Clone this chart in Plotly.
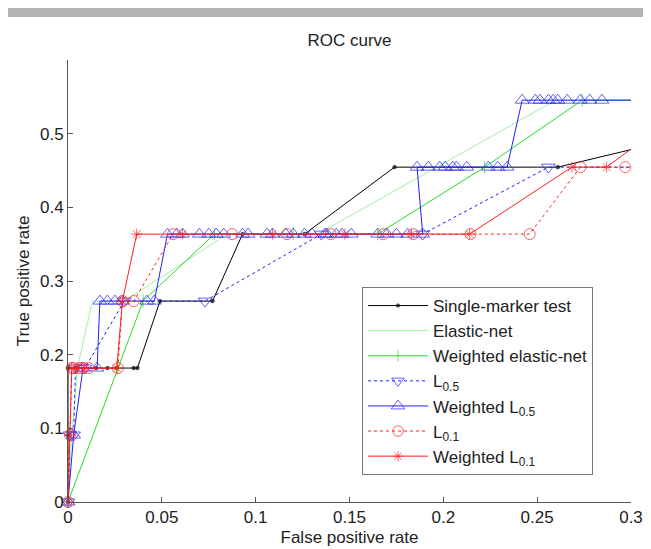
import plotly.graph_objects as go

T = [k / 11 for k in range(7)]  # TPR levels k/11

# Single-marker test
smt_x = [0, 0, 0, 0.004, 0.015, 0.021, 0.026, 0.035, 0.037, 0.049, 0.077, 0.093, 0.126, 0.174, 0.261, 0.41]
smt_y = [T[0], T[1], T[2], T[2], T[2], T[2], T[2], T[2], T[2], T[3], T[3], T[4], T[4], T[5], T[5], T[6]]

# Elastic-net
en_x = [0, 0.002, 0.005, 0.013, 0.03, 0.085, 0.133, 0.26, 0.35]
en_y = [T[0], T[1], T[2], T[3], T[3], T[4], T[4], T[6], T[6]]

# Weighted elastic-net
wen_x = [0, 0.0266, 0.04, 0.078, 0.12, 0.165, 0.222, 0.274, 0.35]
wen_y = [T[0], T[2], T[3], T[4], T[4], T[4], T[5], T[6], T[6]]

# L0.5
l05_x = [0, 0.001, 0.003, 0.004, 0.009, 0.03, 0.073, 0.135, 0.189, 0.256, 0.35]
l05_y = [T[0], T[1], T[1], T[2], T[2], T[3], T[3], T[4], T[4], T[5], T[5]]

# Weighted L0.5
wl05_x = [0, 0.003, 0.008, 0.0155, 0.017, 0.021, 0.025, 0.029, 0.042, 0.046, 0.053, 0.058, 0.061,
          0.070, 0.075, 0.079, 0.083, 0.093, 0.096, 0.106, 0.109, 0.116, 0.12, 0.126, 0.13, 0.137,
          0.138, 0.143, 0.146, 0.151, 0.165, 0.17, 0.175, 0.181, 0.189, 0.186, 0.192, 0.198, 0.201,
          0.205, 0.207, 0.2125, 0.224, 0.229, 0.234, 0.242, 0.249, 0.2515, 0.256, 0.2585, 0.261,
          0.266, 0.273, 0.278, 0.2845, 0.35]
wl05_y = [T[0], T[1], T[2], T[2], T[3], T[3], T[3], T[3], T[3], T[3], T[4], T[4], T[4],
          T[4], T[4], T[4], T[4], T[4], T[4], T[4], T[4], T[4], T[4], T[4], T[4], T[4],
          T[4], T[4], T[4], T[4], T[4], T[4], T[4], T[4], T[4], T[5], T[5], T[5], T[5],
          T[5], T[5], T[5], T[5], T[5], T[5], T[6], T[6], T[6], T[6], T[6], T[6],
          T[6], T[6], T[6], T[6], T[6]]

# L0.1
l01_x = [0, 0.001, 0.002, 0.003, 0.006, 0.008, 0.011, 0.0266, 0.029, 0.035, 0.056, 0.0875, 0.1167,
         0.14, 0.168, 0.184, 0.2145, 0.246, 0.273, 0.297, 0.35]
l01_y = [T[0], T[1], T[2], T[2], T[2], T[2], T[2], T[2], T[3], T[3], T[4], T[4], T[4],
         T[4], T[4], T[4], T[4], T[4], T[5], T[5], T[5]]

# Weighted L0.1
wl01_x = [0, 0.001, 0.002, 0.005, 0.009, 0.026, 0.029, 0.0366, 0.061, 0.109, 0.1475, 0.183, 0.214,
          0.2685, 0.287, 0.335]
wl01_y = [T[0], T[1], T[2], T[2], T[2], T[2], T[3], T[4], T[4], T[4], T[4], T[4], T[4],
          T[5], T[5], T[6]]

XMAX = 0.3


def sizes(xs, s):
    return [s if x <= XMAX else 0 for x in xs]


fig = go.Figure()

def add(name, xs, ys, color, dash, symbol, msize, mode="lines+markers", lw=1):
    fig.add_trace(go.Scatter(
        x=xs, y=ys, name=name, mode=mode, cliponaxis=False,
        line=dict(color=color, width=lw, dash=dash),
        marker=dict(symbol=symbol, size=sizes(xs, msize), color=color,
                    line=dict(color=color, width=1)),
    ))

add("Single-marker test", smt_x, smt_y, "#000000", "solid", "circle", 3.5)
add("Elastic-net", en_x, en_y, "#a6eea6", "solid", "circle", 0, mode="lines")
add("Weighted elastic-net", wen_x, wen_y, "#22dd22", "solid", "line-ns-open", 9)
add("L<sub>0.5</sub>", l05_x, l05_y, "#2020ff", "dot", "triangle-down-open", 12)
add("Weighted L<sub>0.5</sub>", wl05_x, wl05_y, "#2020ff", "solid", "triangle-up-open", 12)
add("L<sub>0.1</sub>", l01_x, l01_y, "#ff2020", "dot", "circle-open", 11)
add("Weighted L<sub>0.1</sub>", wl01_x, wl01_y, "#ff2020", "solid", "asterisk-open", 9)

FONT = "Arial, Liberation Sans, sans-serif"
FS = 17
axis_common = dict(
    showgrid=False, zeroline=False, showline=True, linecolor="#555555", linewidth=1,
    ticks="inside", ticklen=5, tickcolor="#555555",
    tickfont=dict(family=FONT, size=FS, color="#222222"),
    mirror=False, automargin=False,
)

# page has an 8px body margin; figure is laid out in its own coords
W, H = 643, 541
fig.update_layout(
    width=W, height=H,
    paper_bgcolor="white", plot_bgcolor="white",
    margin=dict(l=60, r=20, t=52, b=47),
    font=dict(family=FONT, size=FS, color="#222222"),
    title=dict(text="ROC curve", x=(60 + 563 / 2) / W, xanchor="center",
               y=1 - 32 / H, yanchor="middle", font=dict(size=FS, color="#222222")),
    xaxis=dict(range=[0, XMAX], tickvals=[0, 0.05, 0.1, 0.15, 0.2, 0.25, 0.3],
               ticktext=["0", "0.05", "0.1", "0.15", "0.2", "0.25", "0.3"],
               title=dict(text="False positive rate", font=dict(size=FS), standoff=4),
               **axis_common),
    yaxis=dict(range=[0, 0.6], tickvals=[0, 0.1, 0.2, 0.3, 0.4, 0.5],
               ticktext=["0", "0.1", "0.2", "0.3", "0.4", "0.5"],
               title=dict(text="True positive rate", font=dict(size=FS), standoff=6),
               **axis_common),
    legend=dict(x=(362 - 68) / 563, y=(502 - 287) / 442, xanchor="left", yanchor="top",
                bordercolor="#777777", borderwidth=1, bgcolor="white",
                font=dict(family=FONT, size=FS, color="#222222"),
                itemwidth=60, tracegroupgap=0),
    showlegend=True,
    shapes=[dict(type="rect", xref="paper", yref="paper",
                 x0=-60 / 563, x1=(635 - 60) / 563,
                 y0=1 + 43 / 442, y1=1 + 52 / 442,
                 fillcolor="#b3b3b3", line=dict(width=0), layer="above")],
)

fig.write_html("out.html")
